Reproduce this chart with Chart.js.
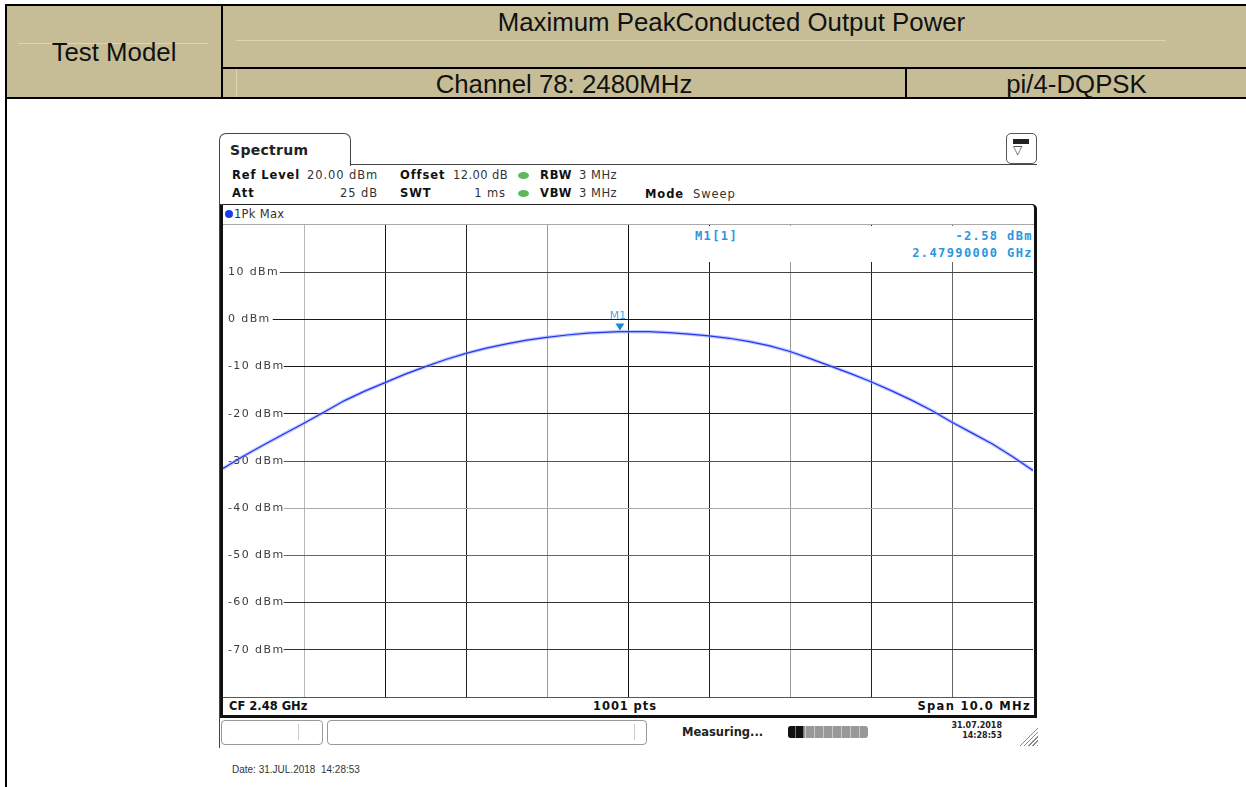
<!DOCTYPE html>
<html lang="en">
<head>
<meta charset="UTF-8">
<title>Maximum Peak Conducted Output Power - Channel 78</title>
<script src="https://cdn.jsdelivr.net/npm/chart.js"></script>
<style>
    body { margin: 0; width: 1246px; height: 787px; background: #fff; position: relative; overflow: hidden; }
    .abs { position: absolute; }
    .ln { position: absolute; background: #000; }
    .cell { position: absolute; font-family: 'Liberation Sans', Arial, sans-serif; font-size: 25.8px; color: #111; text-align: center; white-space: nowrap; }
    .sa { position: absolute; font-family: 'DejaVu Sans', sans-serif; font-size: 11.5px; letter-spacing: 0.9px; color: #333; white-space: nowrap; line-height: 14px; }
    .sa b { color: #111; }
    .mk { position: absolute; font-family: 'DejaVu Sans Mono', monospace; font-weight: bold; font-size: 12px; letter-spacing: 1.4px; color: #2a97dc; white-space: nowrap; line-height: 14px; }
    .dot { position: absolute; width: 11px; height: 7px; border-radius: 50%; background: #5cb85c; }
</style>
</head>
<body>
    <!-- Header table -->
    <div class="abs" style="left:6px;top:5px;width:1240px;height:93px;background:#c6bd97"></div>
    <div class="abs" style="left:18px;top:43px;width:190px;height:1px;background:#ddd5b6"></div>
    <div class="abs" style="left:236px;top:40px;width:930px;height:1px;background:#ddd5b6"></div>
    <div class="abs" style="left:236px;top:69px;width:1px;height:28px;background:#ddd5b6"></div>
    <div class="ln" style="left:5px;top:4px;width:1241px;height:2px"></div>
    <div class="ln" style="left:5px;top:4px;width:2px;height:783px"></div>
    <div class="ln" style="left:221px;top:5px;width:2px;height:93px"></div>
    <div class="ln" style="left:222px;top:67px;width:1024px;height:2px"></div>
    <div class="ln" style="left:905px;top:68px;width:2px;height:30px"></div>
    <div class="ln" style="left:5px;top:97px;width:1241px;height:2px"></div>

    <div class="cell" style="left:7px;width:214px;top:36px;line-height:32px">Test Model</div>
    <div class="cell" style="left:223px;width:1017px;top:6px;line-height:32px">Maximum PeakConducted Output Power</div>
    <div class="cell" style="left:223px;width:682px;top:69px;line-height:30px">Channel 78: 2480MHz</div>
    <div class="cell" style="left:907px;width:339px;top:69px;line-height:30px">pi/4-DQPSK</div>

    <!-- Analyzer window -->
    <div class="abs" style="left:219px;top:133px;width:130px;height:32px;border:1px solid #444;border-bottom:none;border-radius:7px 7px 0 0;background:#fff"></div>
    <div class="sa" style="left:230px;top:142px;font-size:14px;letter-spacing:0.3px;line-height:16px;font-weight:bold;color:#222">Spectrum</div>
    <div class="abs" style="left:350px;top:164px;width:687px;height:1px;background:#444"></div>
    <div class="abs" style="left:219px;top:164px;width:1px;height:584px;background:#444"></div>

    <!-- top-right key icon -->
    <div class="abs" style="left:1006px;top:133px;width:29px;height:29px;border:1px solid #555;border-radius:5px;background:#fff"></div>
    <div class="abs" style="left:1013px;top:139px;width:16px;height:5px;background:#222"></div>
    <div class="sa" style="left:1013px;top:143px;font-size:12px;letter-spacing:0;color:#333">▽</div>

    <!-- setting rows -->
    <div class="sa" style="left:232px;top:168px"><b>Ref Level</b></div>
    <div class="sa" style="left:307px;top:168px">20.00 dBm</div>
    <div class="sa" style="left:400px;top:168px"><b>Offset</b></div>
    <div class="sa" style="left:453px;top:168px;letter-spacing:0.4px">12.00 dB</div>
    <div class="dot" style="left:518px;top:172px"></div>
    <div class="sa" style="left:540px;top:168px"><b>RBW</b></div>
    <div class="sa" style="left:579px;top:168px;letter-spacing:0.5px">3 MHz</div>

    <div class="sa" style="left:232px;top:186px"><b>Att</b></div>
    <div class="sa" style="left:318px;width:60px;text-align:right;top:186px">25 dB</div>
    <div class="sa" style="left:400px;top:186px"><b>SWT</b></div>
    <div class="sa" style="left:446px;width:60px;text-align:right;top:186px">1 ms</div>
    <div class="dot" style="left:518px;top:190px"></div>
    <div class="sa" style="left:540px;top:186px"><b>VBW</b></div>
    <div class="sa" style="left:579px;top:186px;letter-spacing:0.5px">3 MHz</div>
    <div class="sa" style="left:645px;top:187px"><b>Mode</b></div>
    <div class="sa" style="left:693px;top:187px">Sweep</div>

    <!-- diagram frame -->
    <div class="abs" style="left:220px;top:204px;width:817px;height:514px;box-sizing:border-box;border-top:1.5px solid #222;border-left:3px solid #111;border-right:3px solid #111;border-bottom:3px solid #111;border-radius:0 5px 0 0"></div>
    <div class="abs" style="left:225px;top:210px;width:8px;height:8px;border-radius:50%;background:#1c3ee8"></div>
    <div class="sa" style="left:234px;top:207px;letter-spacing:0.3px">1Pk Max</div>
    <div class="abs" style="left:223px;top:224px;width:811px;height:1px;background:#aaa"></div>

    <canvas id="spectrum" class="abs" width="810" height="472" style="left:223px;top:225px"></canvas>

    <!-- marker readout -->
    <div class="abs" style="left:632px;top:226px;width:401px;height:36px;background:#fff"></div>
    <div class="mk" style="left:695px;top:229px">M1[1]</div>
    <div class="mk" style="left:880px;width:153px;text-align:right;top:229px">-2.58 dBm</div>
    <div class="mk" style="left:860px;width:173px;text-align:right;top:246px">2.47990000 GHz</div>

    <!-- footer of diagram -->
    <div class="abs" style="left:223px;top:697px;width:811px;height:1px;background:#555"></div>
    <div class="sa" style="left:229px;top:699px;letter-spacing:0;font-weight:bold;color:#111">CF 2.48 GHz</div>
    <div class="sa" style="left:560px;width:130px;text-align:center;top:699px;font-weight:bold;color:#111">1001 pts</div>
    <div class="sa" style="left:850px;width:181px;text-align:right;top:699px;letter-spacing:1.3px;font-weight:bold;color:#111">Span 10.0 MHz</div>

    <!-- status bar -->
    <div class="abs" style="left:221px;top:720px;width:100px;height:23px;border:1px solid #999;border-radius:4px"></div>
    <div class="abs" style="left:298px;top:724px;width:1px;height:16px;background:#ccc"></div>
    <div class="abs" style="left:327px;top:720px;width:318px;height:23px;border:1px solid #999;border-radius:4px"></div>
    <div class="abs" style="left:634px;top:724px;width:1px;height:16px;background:#ccc"></div>
    <div class="sa" style="left:682px;top:725px;letter-spacing:0;font-weight:bold;color:#222">Measuring...</div>
    <div class="abs" style="left:788px;top:726px;width:80px;height:12px;border-radius:3px;overflow:hidden;background:repeating-linear-gradient(90deg,#999 0 8px,#c8c8c8 8px 9px)">
        <div class="abs" style="left:0;top:0;width:16px;height:12px;background:repeating-linear-gradient(90deg,#111 0 7px,#777 7px 8px)"></div>
    </div>
    <div class="sa" style="left:930px;width:72px;text-align:right;top:721px;font-size:8px;letter-spacing:0;line-height:10px;font-weight:bold;color:#222">31.07.2018</div>
    <div class="sa" style="left:930px;width:72px;text-align:right;top:731px;font-size:8px;letter-spacing:0;line-height:10px;font-weight:bold;color:#222">14:28:53</div>
    <div class="abs" style="left:1018px;top:726px;width:20px;height:20px;clip-path:polygon(100% 0,100% 100%,0 100%);background:repeating-linear-gradient(135deg,#888 0 1px,#fff 1px 3px)"></div>

    <div class="abs" style="left:232px;top:764px;font-family:'Liberation Sans',Arial,sans-serif;font-size:10px;color:#333">Date: 31.JUL.2018&nbsp; 14:28:53</div>

<script>
    // sweep trace, frequency in MHz and level in dBm
    const freqMHz = [2475, 2475.25, 2475.5, 2475.75, 2476, 2476.25, 2476.5, 2476.75, 2477, 2477.25, 2477.5, 2477.75,
        2478, 2478.25, 2478.5, 2478.75, 2479, 2479.25, 2479.5, 2479.75, 2479.9, 2480, 2480.25, 2480.5, 2480.75,
        2481, 2481.25, 2481.5, 2481.75, 2482, 2482.25, 2482.5, 2482.75, 2483, 2483.25, 2483.5, 2483.75,
        2484, 2484.25, 2484.5, 2484.75, 2485];
    const traceDbm = [-31.6, -29.0, -26.6, -24.3, -22.0, -19.6, -17.2, -15.2, -13.4, -11.6, -10.0, -8.5,
        -7.2, -6.1, -5.2, -4.4, -3.8, -3.3, -2.9, -2.7, -2.58, -2.6, -2.6, -2.8, -3.1,
        -3.5, -4.0, -4.7, -5.6, -6.8, -8.3, -9.9, -11.5, -13.2, -15.1, -17.1, -19.3,
        -21.8, -24.1, -26.4, -29.1, -32.0];

    // marker M1
    const markerFreq = 2479.9;
    const markerLevel = -2.58;

    // axis setup
    const spanMHz = [2475, 2485];
    const levelRange = [-80, 20];
    const levelLabels = [10, 0, -10, -20, -30, -40, -50, -60, -70];

    // grid shades per division
    const freqGridShade = { 2476: '#b8b8b8', 2477: '#151515', 2478: '#222', 2479: '#9a9a9a', 2480: '#111',
        2481: '#222', 2482: '#999', 2483: '#222', 2484: '#666' };
    const levelGridShade = { 10: '#444', 0: '#1a1a1a', '-10': '#1a1a1a', '-20': '#1a1a1a', '-30': '#555',
        '-40': '#aaa', '-50': '#666', '-60': '#333', '-70': '#333' };

    const points = freqMHz.map((f, i) => ({ x: f, y: traceDbm[i] }));

    // wide analyzer lettering for the level labels
    const spacingPlugin = {
        id: 'spacing',
        beforeDraw(chart) { chart.ctx.letterSpacing = '1.4px'; }
    };

    const markerPlugin = {
        id: 'marker',
        afterDatasetsDraw(chart) {
            const ctx = chart.ctx;
            const px = chart.scales.x.getPixelForValue(markerFreq);
            const py = chart.scales.y.getPixelForValue(markerLevel);
            ctx.save();
            ctx.letterSpacing = '0px';
            ctx.fillStyle = '#1a8ad4';
            ctx.beginPath();
            ctx.moveTo(px, py - 1);
            ctx.lineTo(px - 4.5, py - 8);
            ctx.lineTo(px + 4.5, py - 8);
            ctx.closePath();
            ctx.fill();
            ctx.fillStyle = '#55a9e2';
            ctx.font = '11px "DejaVu Sans"';
            ctx.textAlign = 'center';
            ctx.textBaseline = 'middle';
            ctx.fillText('M1', px - 2, py - 15);
            ctx.restore();
        }
    };

    new Chart(document.getElementById('spectrum'), {
        type: 'line',
        data: {
            datasets: [
                {
                    data: points,
                    borderColor: '#2436ee',
                    borderWidth: 1.2,
                    pointRadius: 0,
                    tension: 0
                },
                {
                    data: points,
                    borderColor: 'rgba(140,160,255,0.55)',
                    borderWidth: 3.5,
                    pointRadius: 0,
                    tension: 0
                }
            ]
        },
        options: {
            responsive: false,
            animation: false,
            devicePixelRatio: 1,
            layout: { padding: 0 },
            plugins: { legend: { display: false }, tooltip: { enabled: false } },
            scales: {
                x: {
                    type: 'linear',
                    min: spanMHz[0],
                    max: spanMHz[1],
                    ticks: { display: false, stepSize: 1 },
                    grid: {
                        drawTicks: false,
                        color: c => freqGridShade[c.tick.value] || 'rgba(0,0,0,0)'
                    },
                    border: { display: false },
                    afterFit: s => { s.height = 0; s.paddingLeft = 0; s.paddingRight = 0; }
                },
                y: {
                    min: levelRange[0],
                    max: levelRange[1],
                    ticks: {
                        stepSize: 10,
                        mirror: true,
                        padding: 5,
                        color: '#3c3c3c',
                        font: { family: 'DejaVu Sans', size: 11 },
                        callback: v => levelLabels.includes(v) ? v + ' dBm' : null,
                        showLabelBackdrop: true,
                        backdropColor: '#fff',
                        // label widths are measured before the letter spacing is applied
                        backdropPadding: { top: 0, bottom: 0, left: 6, right: 9 }
                    },
                    grid: {
                        drawTicks: false,
                        color: c => levelGridShade[c.tick.value] || 'rgba(0,0,0,0)'
                    },
                    border: { display: false },
                    afterFit: s => { s.width = 0; s.paddingTop = 0; s.paddingBottom = 0; }
                }
            }
        },
        plugins: [spacingPlugin, markerPlugin]
    });
</script>
</body>
</html>
